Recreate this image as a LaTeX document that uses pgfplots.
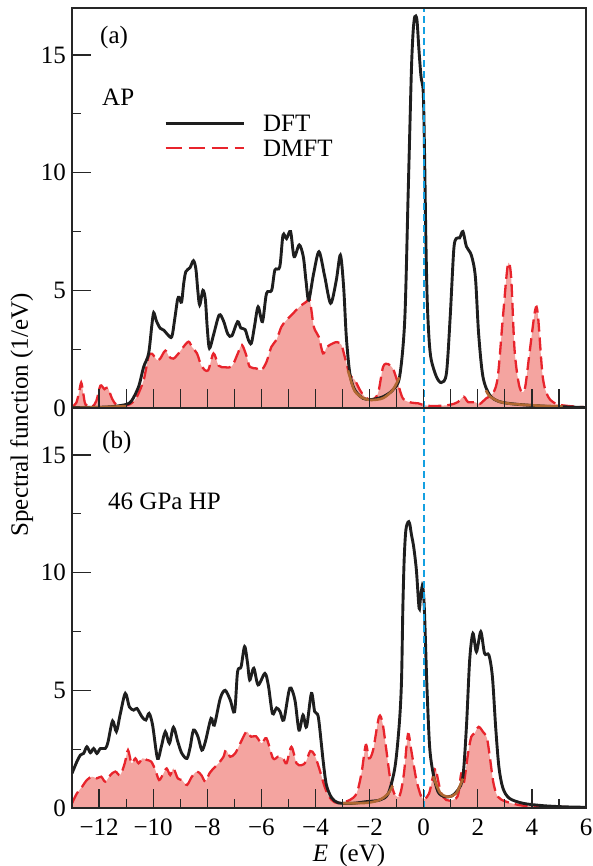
\documentclass[border=0pt]{standalone}
\usepackage{fontspec}
\setmainfont{Liberation Serif}
\usepackage{pgfplots}
\pgfplotsset{compat=1.18}
\usepackage{pgfplotstable}

\definecolor{dftblack}{RGB}{30,30,30}
\definecolor{dmftred}{RGB}{232,36,44}
\definecolor{dmftfill}{RGB}{244,164,160}
\definecolor{fitbrown}{RGB}{176,104,50}
\definecolor{efcyan}{RGB}{20,160,225}
\newcommand\fs{\fontsize{25}{30}\selectfont}

% panel (a): ambient pressure
\pgfplotstableread{
E y
-13.0 0.02
-12.0 0.03
-11.5 0.06
-11.0 0.15
-10.8 0.3
-10.54 0.9
-10.35 1.75
-10.17 2.3
-10.05 3.5
-9.98 4.05
-9.88 3.7
-9.74 3.39
-9.6 3.3
-9.45 3.1
-9.31 3.03
-9.2 3.8
-9.1 4.6
-9.04 4.7
-8.95 4.5
-8.87 5.3
-8.79 5.8
-8.64 5.96
-8.51 6.26
-8.42 5.9
-8.35 5.0
-8.28 4.38
-8.16 5.0
-8.07 4.6
-8.0 3.4
-7.92 2.54
-7.77 3.1
-7.56 3.95
-7.4 3.7
-7.24 3.14
-7.09 3.07
-6.88 3.67
-6.76 3.4
-6.6 3.33
-6.48 2.9
-6.37 2.75
-6.25 3.5
-6.12 4.3
-5.96 3.67
-5.81 4.87
-5.62 5.0
-5.5 5.86
-5.32 6.0
-5.2 7.35
-5.07 7.2
-4.92 7.5
-4.79 6.43
-4.6 6.93
-4.45 6.43
-4.35 5.4
-4.25 4.59
-4.07 5.7
-3.87 6.64
-3.66 5.6
-3.44 4.45
-3.23 5.43
-3.08 6.5
-2.96 5.16
-2.86 3.03
-2.73 1.47
-2.55 0.77
-2.24 0.41
-1.93 0.36
-1.5 0.48
-1.14 0.77
-0.89 1.33
-0.7 3.74
-0.58 8.84
-0.52 11.5
-0.45 14.5
-0.39 16.0
-0.33 16.63
-0.25 16.5
-0.18 15.3
-0.1 14.1
-0.03 13.65
0.0 12.8
0.04 10.25
0.08 7.2
0.13 4.59
0.2 2.9
0.28 2.04
0.47 1.33
0.65 1.08
0.84 1.47
0.98 3.88
1.11 6.7
1.2 7.2
1.33 7.23
1.45 7.5
1.58 6.86
1.76 6.5
1.91 5.58
2.03 3.17
2.19 1.33
2.44 0.55
2.8 0.27
3.42 0.16
4.4 0.08
5.14 0.05
6.0 0.02
}\dfta

\pgfplotstableread{
E y
-13.0 0.05
-12.85 0.2
-12.75 0.6
-12.66 1.08
-12.58 0.6
-12.5 0.15
-12.26 0.05
-12.1 0.3
-11.95 0.95
-11.8 0.8
-11.68 0.87
-11.52 0.4
-11.35 0.12
-11.1 0.08
-10.8 0.2
-10.6 0.48
-10.35 1.19
-10.17 2.18
-10.04 2.3
-9.86 2.04
-9.74 2.1
-9.55 2.44
-9.41 2.18
-9.25 2.1
-9.06 2.32
-8.88 2.6
-8.69 2.82
-8.57 2.6
-8.38 2.32
-8.2 1.75
-7.97 1.6
-7.77 2.32
-7.58 1.8
-7.34 1.73
-7.09 1.77
-6.87 2.32
-6.72 2.68
-6.54 2.18
-6.43 1.75
-6.18 1.68
-6.0 1.6
-5.81 1.96
-5.63 2.6
-5.44 2.9
-5.26 3.45
-5.07 3.74
-4.83 4.02
-4.58 4.31
-4.33 4.52
-4.21 4.6
-4.06 3.45
-3.88 3.03
-3.72 2.32
-3.57 2.6
-3.35 2.75
-3.2 2.8
-3.04 2.68
-2.92 2.18
-2.73 1.4
-2.55 1.2
-2.36 0.77
-2.18 0.48
-1.93 0.34
-1.69 0.62
-1.5 1.75
-1.32 1.87
-1.14 1.68
-0.99 1.2
-0.77 0.41
-0.46 0.23
-0.21 0.2
-0.02 0.13
0.35 0.08
0.95 0.13
1.26 0.25
1.48 0.48
1.64 0.25
1.89 0.25
2.07 0.17
2.31 0.41
2.56 0.62
2.74 1.33
2.93 3.88
3.11 6.08
3.23 5.6
3.36 2.46
3.54 0.9
3.73 0.78
3.91 2.32
4.12 4.16
4.22 3.97
4.4 1.33
4.6 0.48
4.91 0.17
5.4 0.08
6.0 0.03
}\dmfta

% panel (b): 46 GPa
\pgfplotstableread{
E y
-13.0 1.47
-12.82 1.97
-12.69 2.25
-12.57 2.32
-12.45 2.6
-12.32 2.35
-12.2 2.53
-12.08 2.32
-11.95 2.53
-11.77 2.53
-11.67 2.8
-11.5 3.7
-11.36 3.25
-11.22 3.97
-11.03 4.87
-10.88 4.3
-10.72 4.16
-10.6 4.23
-10.41 3.87
-10.27 3.74
-10.15 4.02
-10.02 3.52
-9.84 2.11
-9.7 2.6
-9.55 3.24
-9.4 2.75
-9.25 3.43
-9.09 2.82
-8.94 2.32
-8.75 2.11
-8.63 2.6
-8.51 3.31
-8.35 3.05
-8.2 2.46
-8.07 2.82
-7.86 3.81
-7.74 3.52
-7.52 4.66
-7.34 5.0
-7.15 4.59
-6.99 4.09
-6.88 5.79
-6.75 6.0
-6.62 6.86
-6.51 6.15
-6.43 5.44
-6.28 5.94
-6.12 5.23
-5.87 5.72
-5.74 5.2
-5.59 4.02
-5.44 4.25
-5.31 4.1
-5.17 3.74
-4.95 5.09
-4.76 4.59
-4.61 3.31
-4.46 3.95
-4.33 3.45
-4.15 4.87
-4.03 4.1
-3.9 3.9
-3.78 2.7
-3.72 2.04
-3.6 1.0
-3.41 0.45
-3.16 0.22
-2.63 0.2
-2.12 0.27
-1.62 0.34
-1.31 0.62
-1.06 1.75
-0.9 3.6
-0.82 5.4
-0.77 8.5
-0.72 10.6
-0.66 11.8
-0.58 12.15
-0.52 12.1
-0.45 11.6
-0.37 11.1
-0.27 10.11
-0.17 8.49
-0.12 8.9
-0.05 9.45
0.0 9.0
0.04 8.0
0.12 5.16
0.22 2.6
0.35 1.47
0.53 0.69
0.77 0.48
1.03 0.51
1.27 0.77
1.45 1.33
1.58 3.45
1.7 6.29
1.82 7.42
1.95 6.64
2.11 7.49
2.25 6.57
2.41 6.5
2.54 5.58
2.66 3.45
2.78 1.75
2.93 0.84
3.17 0.41
3.67 0.2
4.4 0.1
5.2 0.05
6.0 0.03
}\dftb

\pgfplotstableread{
E y
-13.0 0.2
-12.82 0.62
-12.63 0.9
-12.45 1.19
-12.26 1.33
-12.08 1.26
-11.92 1.33
-11.77 1.12
-11.58 1.4
-11.4 1.55
-11.22 1.4
-11.05 1.9
-10.93 2.46
-10.8 1.9
-10.66 2.11
-10.54 1.9
-10.39 2.11
-10.23 2.04
-10.07 1.97
-9.92 1.62
-9.78 1.19
-9.62 1.47
-9.5 1.68
-9.37 1.4
-9.25 1.68
-9.09 1.26
-8.94 1.19
-8.75 0.98
-8.57 1.33
-8.38 1.55
-8.22 1.4
-8.07 1.12
-7.92 1.47
-7.77 1.68
-7.58 1.9
-7.4 2.18
-7.31 2.46
-7.15 2.18
-6.97 2.32
-6.78 2.75
-6.6 3.17
-6.52 3.24
-6.38 3.03
-6.2 3.05
-5.99 2.75
-5.81 2.96
-5.57 2.11
-5.38 2.18
-5.2 2.11
-5.07 1.9
-4.89 2.6
-4.7 1.9
-4.52 1.82
-4.36 1.95
-4.19 2.42
-4.03 2.25
-3.84 1.6
-3.66 0.9
-3.5 0.48
-3.3 0.25
-3.1 0.22
-2.73 0.34
-2.48 0.62
-2.3 1.47
-2.14 2.68
-2.02 2.11
-1.87 2.46
-1.65 3.88
-1.52 3.6
-1.38 2.46
-1.23 1.19
-1.06 0.55
-0.88 0.55
-0.73 1.47
-0.58 3.14
-0.46 2.46
-0.27 1.19
-0.09 0.48
0.03 0.38
0.2 0.62
0.34 1.33
0.44 1.69
0.53 1.19
0.65 0.62
0.83 0.34
1.08 0.34
1.27 0.55
1.39 1.47
1.48 1.05
1.64 2.32
1.76 3.03
1.88 3.17
2.03 3.45
2.19 3.24
2.34 2.96
2.46 2.04
2.58 1.05
2.74 0.48
3.05 0.27
3.67 0.1
4.65 0.05
6.0 0.03
}\dmftb

\pgfplotsset{
  dosaxis/.style={
    scale only axis, width=514pt, height=400pt,
    xmin=-13, xmax=6, ymin=0, ymax=17,
    axis on top,
    axis line style={line width=1.3pt, draw=black!85},
    tick style={line width=1.2pt, draw=black!85},
    tick align=inside,
    xtick pos=left, ytick pos=left,
    ytick={0,5,10,15}, minor ytick={2.5,7.5,12.5},
    major tick length=19pt, minor tick length=9pt,
    ticklabel style={font=\fs, inner sep=0pt},
    /pgf/number format/assume math mode=true,
    yticklabel shift=6pt, xticklabel shift=11pt,
  },
  fillstyle/.style={draw=none, fill=dmftfill, smooth, tension=0.5, forget plot},
  dmftline/.style={dmftred, line width=2.3pt, dash pattern=on 13pt off 6pt, smooth, tension=0.5},
  dftline/.style={dftblack, line width=2.9pt, smooth, tension=0.5},
  fitline/.style={fitbrown, line width=2.6pt, smooth, forget plot},
  efline/.style={efcyan, line width=1.7pt, dash pattern=on 7pt off 4pt, forget plot},
}

\begin{document}
\fs
\begin{tikzpicture}
\useasboundingbox (-72pt,-58pt) rectangle (520pt,808pt);
\begin{axis}[dosaxis, at={(0pt,400pt)}, anchor=south west,
    xtick={-12,-11,...,5}, xticklabels={},
    legend style={at={(axis cs:-9.6,12.45)}, anchor=north west, draw=none, fill=none,
      inner sep=0pt, font=\fs, row sep=4.5pt, column sep=18pt,
      nodes={inner sep=0pt, anchor=base west}},
    legend image code/.code={\draw[#1] (0pt,8pt) -- (78pt,8pt);},
    legend cell align=left]
  \addplot[fillstyle] table {\dmfta} \closedcycle;
  \addplot[dmftline, forget plot] table {\dmfta};
  \addplot[dftline] table {\dfta};
  \addlegendentry{DFT}
  \addlegendimage{dmftred, line width=2.3pt, dash pattern=on 16pt off 7pt}
  \addlegendentry{DMFT}
  \addplot[fitline] coordinates {(-13,0.0) (-12,0.03) (-11,0.08)};
  \addplot[fitline] coordinates {(-2.8,1.6) (-2.73,1.33) (-2.55,0.72) (-2.24,0.42) (-1.93,0.34) (-1.5,0.42) (-1.14,0.77) (-0.9,1.3)};
  \addplot[fitline] coordinates {(2.3,0.75) (2.44,0.5) (2.8,0.27) (3.3,0.17) (4.4,0.09) (5.14,0.06)};
  \addplot[efline] coordinates {(0,0) (0,17)};
\end{axis}
\begin{axis}[dosaxis, at={(0pt,0pt)}, anchor=south west,
    xtick={-12,-10,...,6}, minor xtick={-11,-9,...,5},
    xticklabels={−12,−10,−8,−6,−4,−2,0,2,4,6}]
  \addplot[fillstyle] table {\dmftb} \closedcycle;
  \addplot[dmftline, forget plot] table {\dmftb};
  \addplot[dftline, forget plot] table {\dftb};
  \addplot[fitline] coordinates {(-3.0,0.2) (-2.1,0.22) (-1.62,0.35) (-1.31,0.62) (-1.15,0.95)};
  \addplot[fitline] coordinates {(0.35,1.35) (0.6,0.66) (0.9,0.48) (1.2,0.62) (1.45,1.25)};
  \addplot[efline] coordinates {(0,0) (0,17)};
\end{axis}
\node[anchor=west, inner sep=0pt, font=\fs] at (28pt,770pt) {(a)};
\node[anchor=west, inner sep=0pt, font=\fs] at (30pt,711pt) {AP};
\node[anchor=west, inner sep=0pt, font=\fs] at (30pt,366pt) {(b)};
\node[anchor=west, inner sep=0pt, font=\fs] at (36pt,307pt) {46 GPa HP};
\node[rotate=90, anchor=base, inner sep=0pt, font=\fs] at (-44pt,393pt) {Spectral function (1/eV)};
\node[anchor=base, inner sep=0pt, font=\fs] at (277pt,-53pt) {\textit{E}\hspace{0.45em}(eV)};
\end{tikzpicture}
\end{document}
